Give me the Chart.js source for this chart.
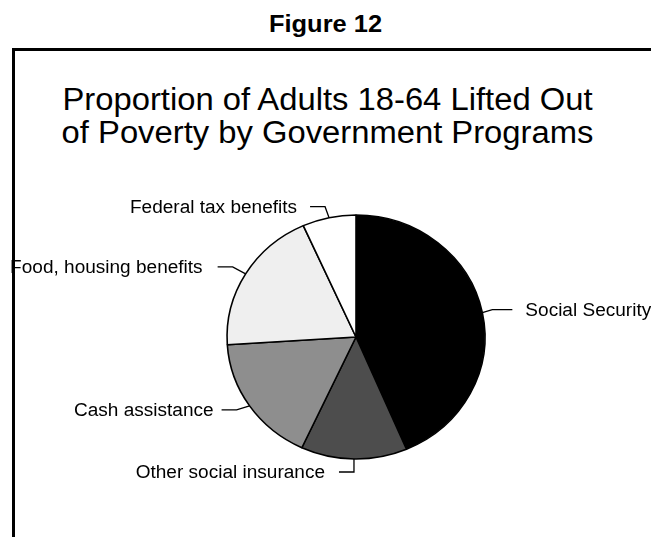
<!DOCTYPE html>
<html>
<head>
<meta charset="utf-8">
<script src="https://cdn.jsdelivr.net/npm/chart.js@4/dist/chart.umd.min.js"></script>
<style>
  html, body { margin: 0; padding: 0; background: #fff; width: 651px; height: 537px; overflow: hidden;
               font-family: "Liberation Sans", Arial, sans-serif; color: #000; }
  #fig   { position: absolute; left: 0; width: 651px; top: 10px; text-align: center;
           font-weight: bold; font-size: 24px; line-height: 28px; transform: scaleX(1.06); }
  #frame { position: absolute; left: 12px; top: 48px; width: 700px; height: 600px;
           border: 3px solid #000; box-sizing: border-box; z-index: 2; pointer-events: none; }
  #title { position: absolute; left: 12px; width: 631px; top: 83px; text-align: center;
           font-size: 31px; line-height: 33px; transform: scaleX(1.057); }
  #wrap  { position: absolute; left: 0; top: 0; width: 651px; height: 537px; }
</style>
</head>
<body>
<div id="fig">Figure 12</div>
<div id="title">Proportion of Adults 18-64 Lifted Out<br>of Poverty by Government Programs</div>
<div id="wrap"><canvas id="pie"></canvas></div>
<div id="frame"></div>
<script>
const programs    = ["Social Security", "Other social insurance", "Cash assistance", "Food, housing benefits", "Federal tax benefits"];
const shares      = [43.6, 13.3, 17.1, 19.3, 6.7];
const sliceColors = ["#000000", "#4d4d4d", "#8e8e8e", "#efefef", "#ffffff"];

const STRETCH_X = 1.057;   // pie is drawn slightly wider than tall
const LABEL_FONT = '18px "Liberation Sans", Arial, sans-serif';

// callout geometry per slice: elbow offset from the rim point, then a flat run and a gap before the text
const callouts = [
  { elbow: [10, -3],  run: 20, gap: 13, side: "right" },
  { elbow: [0, 13],   run: 15, gap: 14, side: "left"  },
  { elbow: [-13, 4],  run: 15, gap: 8,  side: "left"  },
  { elbow: [-13, -7], run: 15, gap: 15, side: "left"  },
  { elbow: [-4, -11], run: 15, gap: 13, side: "left"  },
];

const stretchPie = {
  id: "stretchPie",
  beforeDatasetsDraw(chart) {
    const arc = chart.getDatasetMeta(0).data[0];
    const ctx = chart.ctx;
    ctx.save();
    ctx.translate(arc.x, arc.y);
    ctx.scale(STRETCH_X, 1);
    ctx.translate(-arc.x, -arc.y);
  },
  afterDatasetsDraw(chart) {
    chart.ctx.restore();
  },
};

const calloutLabels = {
  id: "calloutLabels",
  afterDraw(chart) {
    const ctx = chart.ctx;
    const arcs = chart.getDatasetMeta(0).data;
    ctx.save();
    ctx.strokeStyle = "#000";
    ctx.lineWidth = 1.3;
    ctx.fillStyle = "#000";
    ctx.font = LABEL_FONT;
    ctx.textBaseline = "middle";
    arcs.forEach((arc, i) => {
      const c = callouts[i];
      const mid = (arc.startAngle + arc.endAngle) / 2;
      const px = arc.x + arc.outerRadius * Math.cos(mid) * STRETCH_X;
      const py = arc.y + arc.outerRadius * Math.sin(mid);
      const ex = px + c.elbow[0];
      const ey = py + c.elbow[1];
      const dir = c.side === "right" ? 1 : -1;
      const fx = ex + dir * c.run;
      ctx.beginPath();
      ctx.moveTo(px, py);
      ctx.lineTo(ex, ey);
      ctx.lineTo(fx, ey);
      ctx.stroke();

      const tx = fx + dir * c.gap;
      ctx.save();
      ctx.translate(tx, ey);
      ctx.scale(STRETCH_X, 1);
      ctx.textAlign = c.side === "right" ? "left" : "right";
      ctx.fillText(programs[i], 0, 1);
      ctx.restore();
    });
    ctx.restore();
  },
};

new Chart(document.getElementById("pie"), {
  type: "pie",
  data: {
    labels: programs,
    datasets: [{
      data: shares,
      backgroundColor: sliceColors,
      borderColor: "#000",
      borderWidth: 1.5,
      radius: 122,
      clip: false,
    }],
  },
  options: {
    animation: false,
    responsive: true,
    maintainAspectRatio: false,
    layout: { padding: { left: 200, right: 139, top: 215, bottom: 78 } },
    plugins: { legend: { display: false }, tooltip: { enabled: false }, title: { display: false } },
  },
  plugins: [stretchPie, calloutLabels],
});
</script>
</body>
</html>
